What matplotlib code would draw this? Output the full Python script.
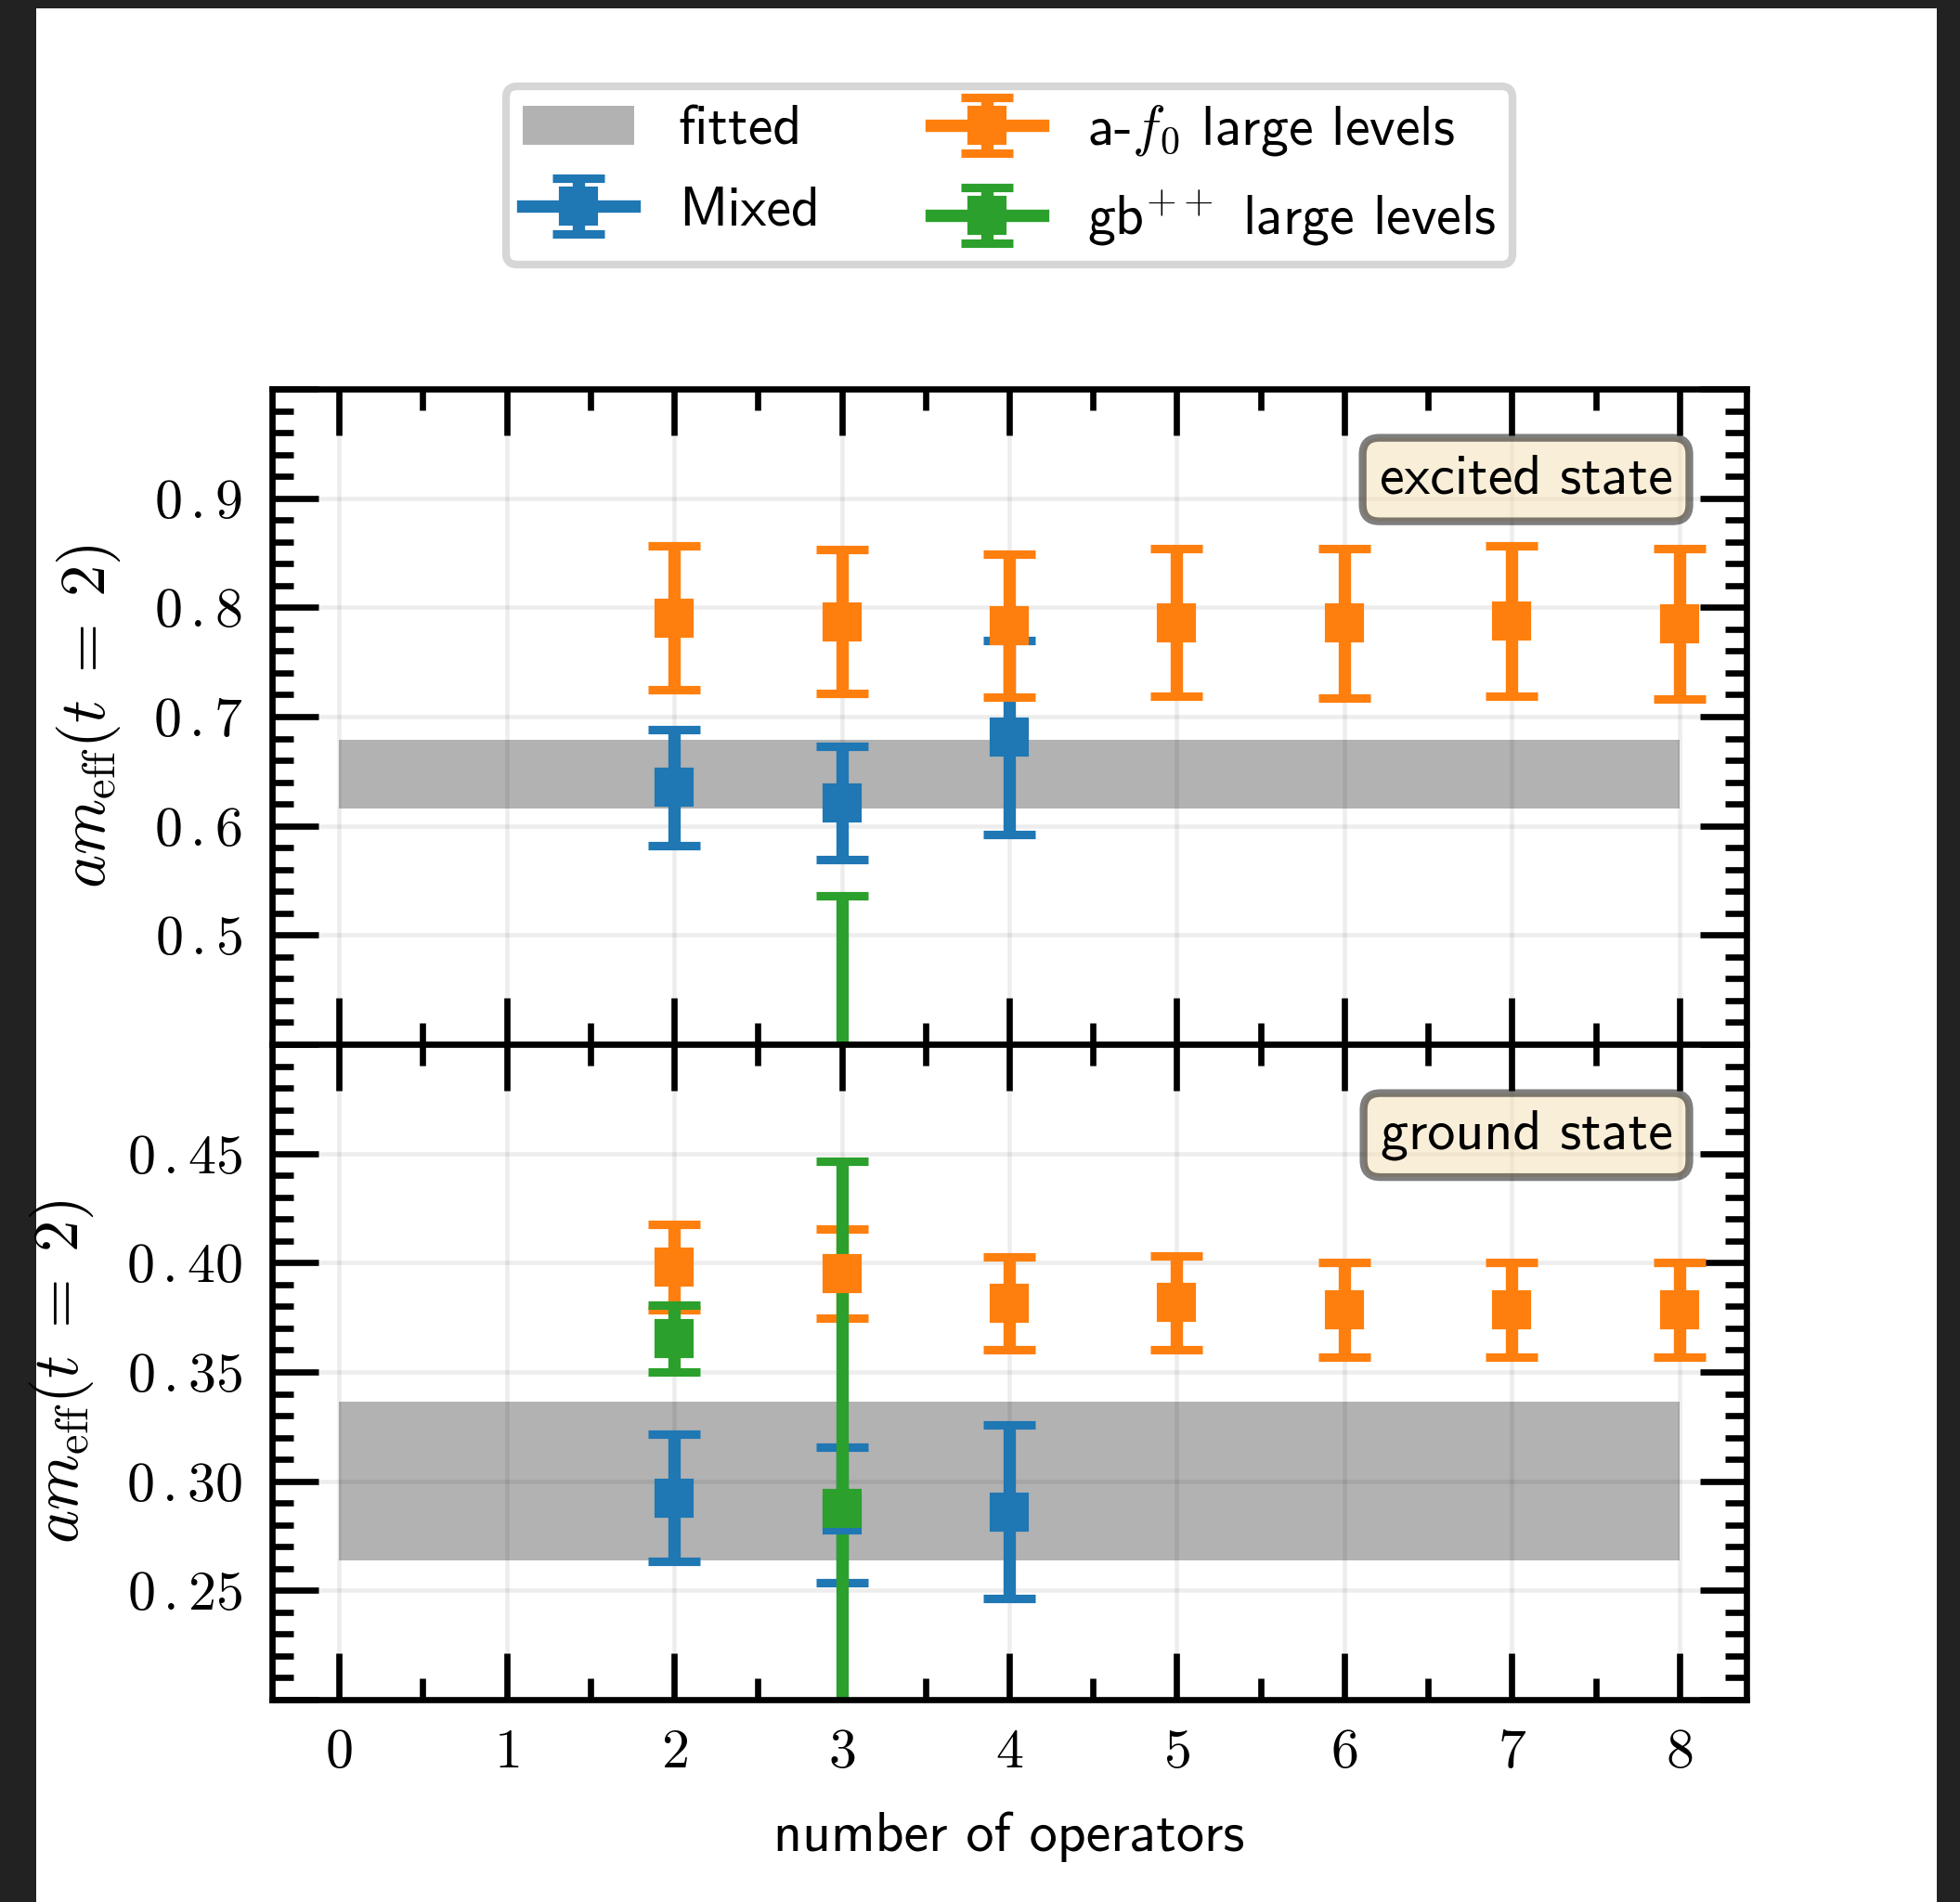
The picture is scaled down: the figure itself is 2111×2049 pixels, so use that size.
import matplotlib
matplotlib.use("Agg")
import matplotlib.pyplot as plt
from matplotlib.patches import Rectangle
from matplotlib.ticker import MultipleLocator

# number of operators used in each variational basis
n_mixed = [2, 3, 4]
n_af0 = [2, 3, 4, 5, 6, 7, 8]
n_gb_exc = [3]
n_gb_gnd = [2, 3]
fit_range = [0, 8]

# excited state, effective mass at t = 2
exc_mixed = [0.635, 0.621, 0.681]
exc_mixed_err = [0.0535, 0.0515, 0.0885]
exc_af0 = [0.7905, 0.787, 0.7835, 0.786, 0.7855, 0.7875, 0.785]
exc_af0_err = [0.0655, 0.066, 0.0655, 0.0675, 0.0685, 0.0685, 0.069]
exc_gb = [0.30]
exc_gb_err = [0.236]
exc_fit = [0.616, 0.679]

# ground state, effective mass at t = 2
gnd_mixed = [0.2924, 0.2846, 0.2860]
gnd_mixed_err = [0.0292, 0.0311, 0.0397]
gnd_af0 = [0.398, 0.395, 0.3815, 0.3817, 0.3786, 0.3786, 0.3783]
gnd_af0_err = [0.0197, 0.0204, 0.0213, 0.0213, 0.0216, 0.0216, 0.0217]
gnd_gb = [0.3652, 0.2874]
gnd_gb_err = [0.0153, 0.159]
gnd_fit = [0.2636, 0.3363]

exc_yticks = [0.4, 0.5, 0.6, 0.7, 0.8, 0.9, 1.0]
exc_yticklabels = ['', '0.5', '0.6', '0.7', '0.8', '0.9', '']
gnd_yticks = [0.20, 0.25, 0.30, 0.35, 0.40, 0.45, 0.50]
gnd_yticklabels = ['', '0.25', '0.30', '0.35', '0.40', '0.45', '']

FS = 14.4
plt.rcParams['font.family'] = ['cmss10', 'DejaVu Sans']
plt.rcParams['mathtext.fontset'] = 'cm'
plt.rcParams['axes.unicode_minus'] = False
plt.rcParams['axes.linewidth'] = 1.6
plt.rcParams['patch.linewidth'] = 2.0

fig = plt.figure(figsize=(2111 / 300, 2049 / 300), dpi=300)
fig.patch.set_facecolor('#222222')
fig.add_artist(Rectangle((0.0185, 0.0), 0.9696, 0.9956, transform=fig.transFigure,
                         facecolor='white', edgecolor='none', zorder=-10))

ax_exc, ax_gnd = fig.subplots(2, 1, sharex=True)
fig.subplots_adjust(left=0.1388, right=0.891, top=0.7955, bottom=0.1064, hspace=0)

style = dict(fmt='-s', markersize=9, linewidth=3.2, elinewidth=3.2,
             capsize=6.8, capthick=2.2)


def draw_series(ax, xs, ys, errs, color, label):
    # one errorbar call per point, so no line joins the points
    for i, (x, y, e) in enumerate(zip(xs, ys, errs)):
        ax.errorbar(x, y, yerr=e, color=color,
                    label=label if i == 0 else None, **style)


def tick_text(s):
    # a little room around the decimal point
    return '$' + s.replace('.', r'\,.') + '$' if s else ''


panels = [
    (ax_exc, exc_fit, exc_mixed, exc_mixed_err, exc_af0, exc_af0_err,
     n_gb_exc, exc_gb, exc_gb_err, 'excited state', exc_yticks, exc_yticklabels, 0.02),
    (ax_gnd, gnd_fit, gnd_mixed, gnd_mixed_err, gnd_af0, gnd_af0_err,
     n_gb_gnd, gnd_gb, gnd_gb_err, 'ground state', gnd_yticks, gnd_yticklabels, 0.01),
]

for (ax, fit, mixed, mixed_err, af0, af0_err, n_gb, gb, gb_err, title,
     yticks, yticklabels, yminor) in panels:
    ax.fill_between(fit_range, fit[0], fit[1], color='k', alpha=0.3,
                    linewidth=0, label='fitted')
    draw_series(ax, n_mixed, mixed, mixed_err, 'tab:blue', 'Mixed')
    draw_series(ax, n_af0, af0, af0_err, 'tab:orange', r'a-$f_0$ large levels')
    draw_series(ax, n_gb, gb, gb_err, 'tab:green', r'gb$^{++}$ large levels')

    ax.set_xlim(-0.4, 8.4)
    ax.set_ylim(yticks[0], yticks[-1])
    ax.set_yticks(yticks)
    ax.set_yticklabels([tick_text(s) for s in yticklabels])
    ax.yaxis.set_minor_locator(MultipleLocator(yminor))
    ax.xaxis.set_major_locator(MultipleLocator(1))
    ax.xaxis.set_minor_locator(MultipleLocator(0.5))
    ax.tick_params(which='both', direction='in', top=True, right=True,
                   width=1.6, labelsize=FS, pad=7.5)
    ax.tick_params(which='major', length=12)
    ax.tick_params(which='minor', length=5.5)
    ax.grid(True, which='major', color='k', alpha=0.07, linewidth=1.1)
    ax.set_ylabel(r'$am_{\rm eff}(t\;=\;2)$', fontsize=16.5, labelpad=8)
    ax.text(0.95, 0.9, title, transform=ax.transAxes, ha='right', va='top',
            fontsize=FS, bbox=dict(boxstyle='round', facecolor='wheat', alpha=0.5))

ax_gnd.set_xticklabels(['$%d$' % v for v in ax_gnd.get_xticks()])
ax_gnd.set_xlim(-0.4, 8.4)
ax_gnd.set_xlabel('number of operators', fontsize=FS, labelpad=8.5)

ax_exc.legend(loc='lower center', bbox_to_anchor=(0.5, 1.147), ncol=2,
              fontsize=FS, labelspacing=0.55, borderpad=0.3)

fig.savefig('out.png', dpi=300, facecolor=fig.get_facecolor())
